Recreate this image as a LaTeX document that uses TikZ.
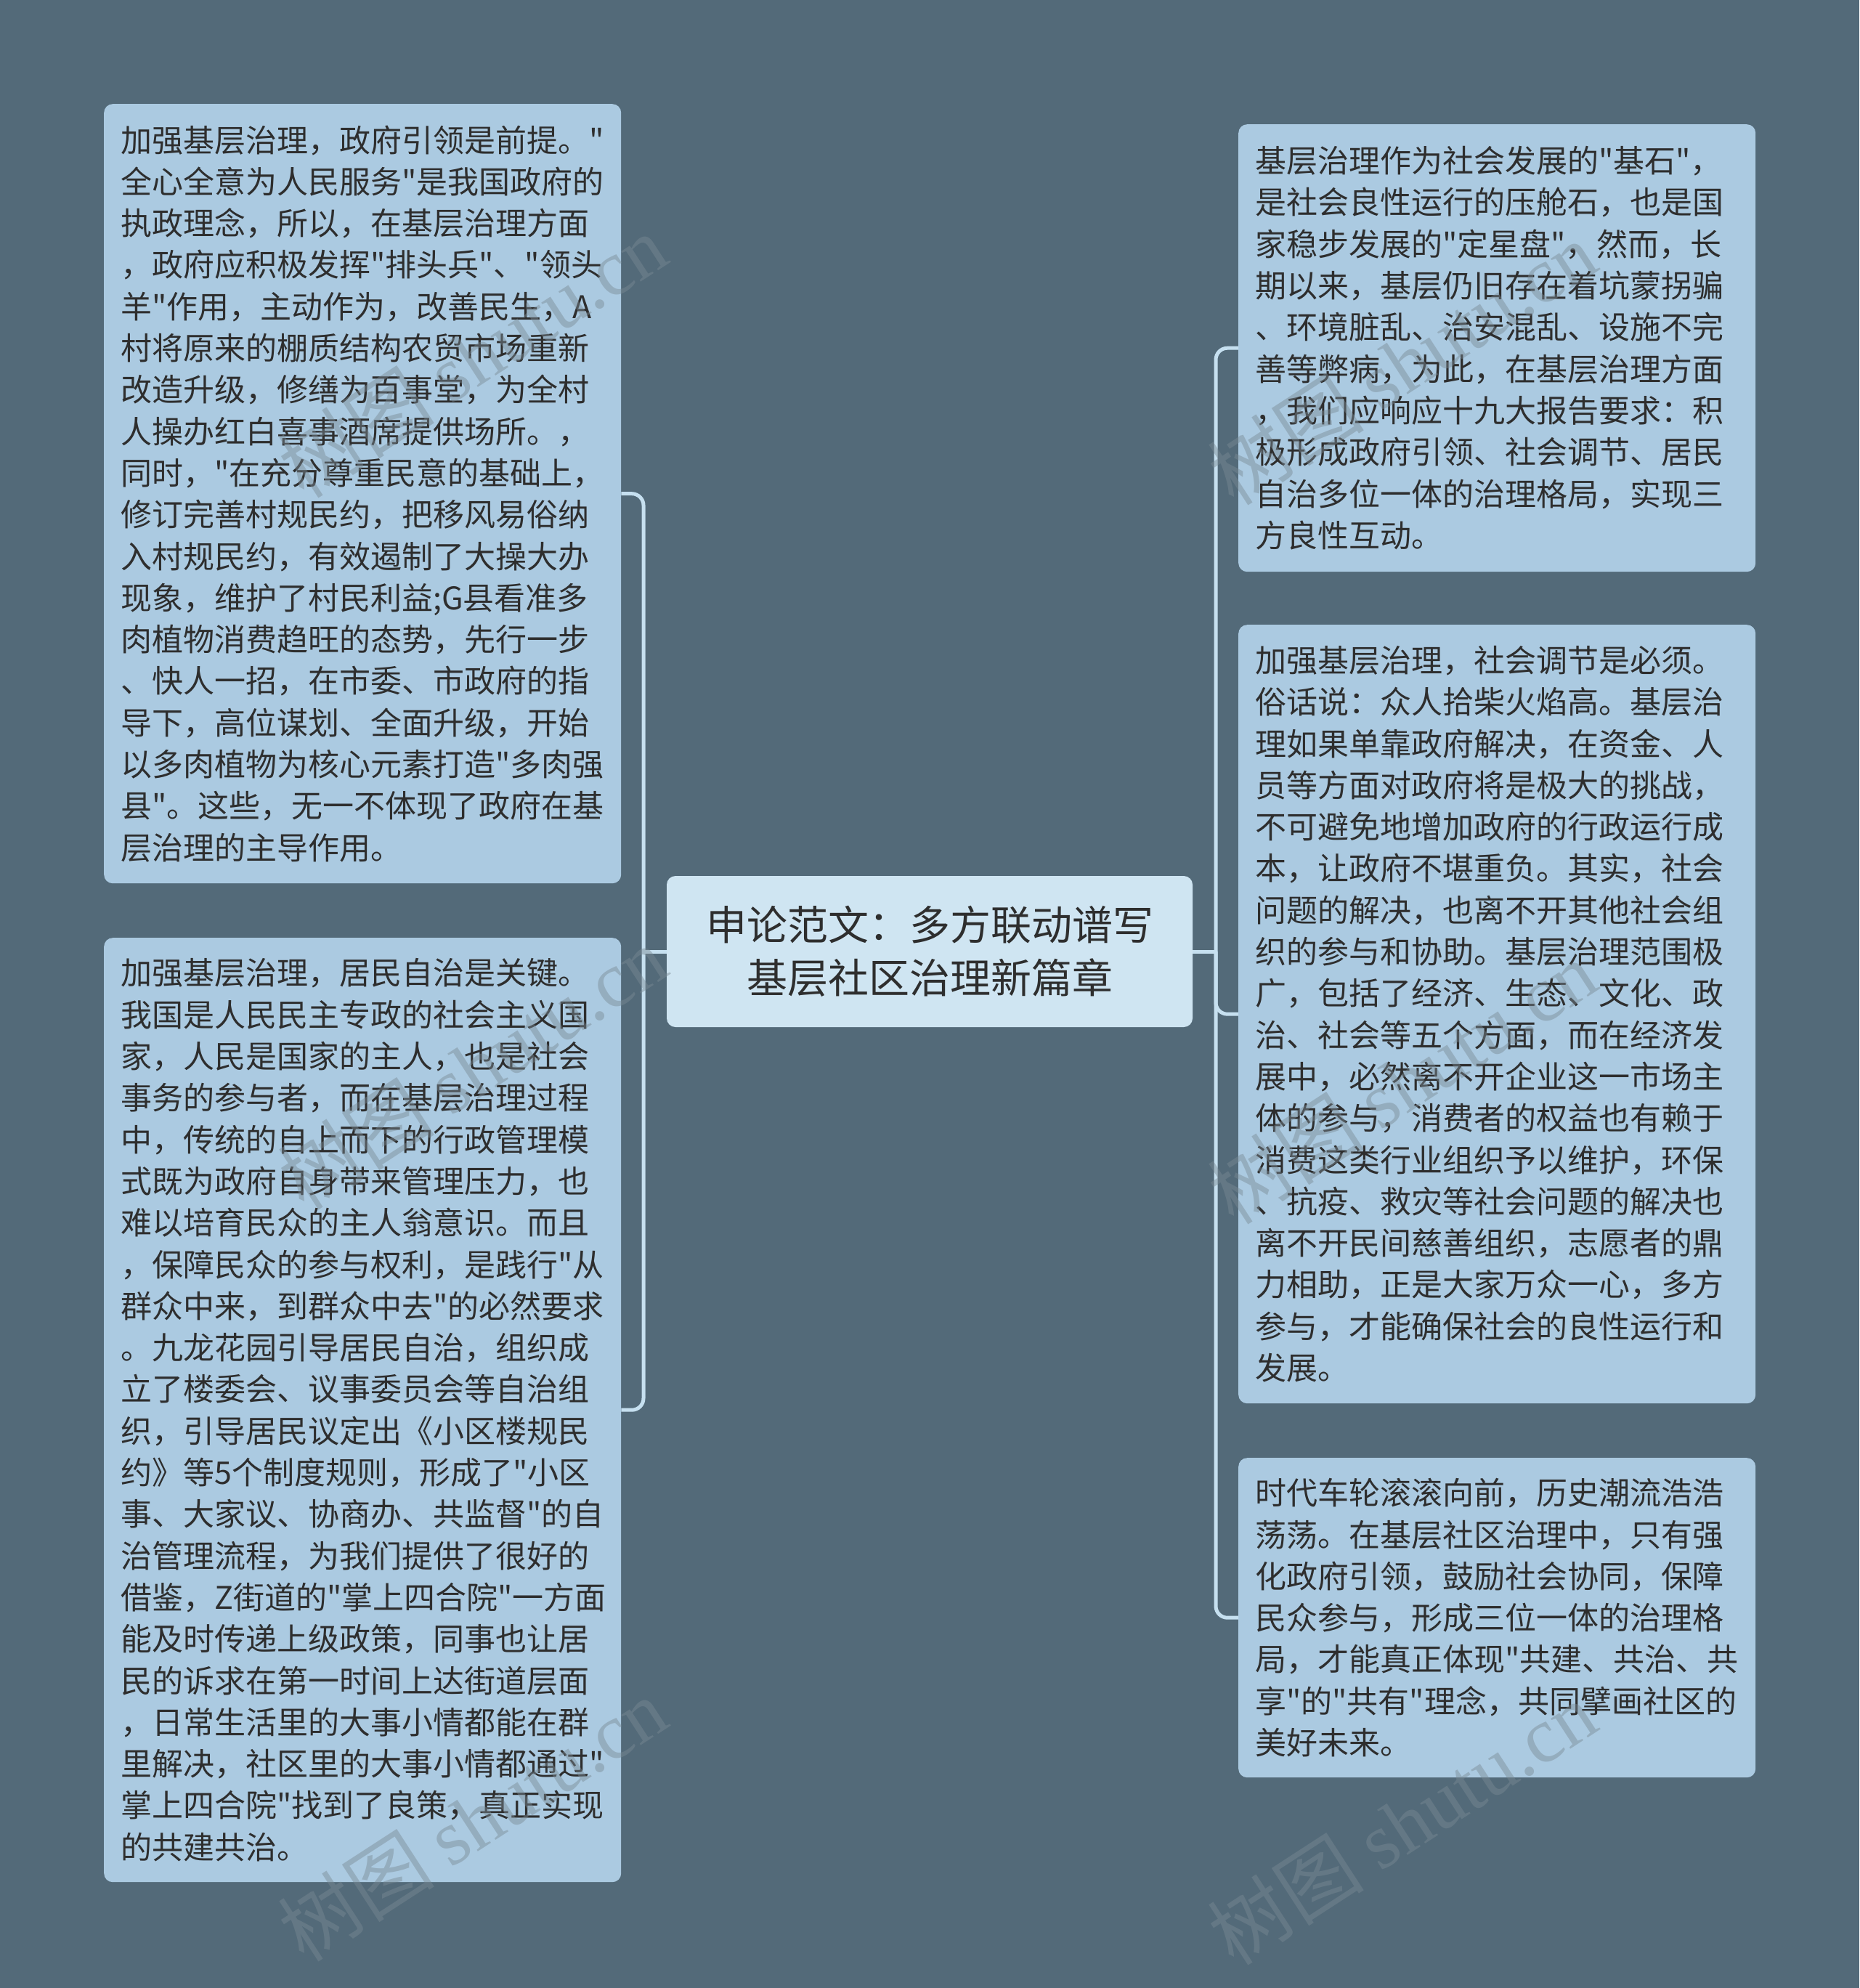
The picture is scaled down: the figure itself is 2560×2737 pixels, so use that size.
\documentclass[tikz,border=0pt]{standalone}
\usepackage{fontspec}
\setmainfont{Noto Sans CJK SC}[Ligatures=TeXOff]
\newfontfamily\wmserif{Liberation Serif}[Ligatures=TeXOff]
\definecolor{bgc}{HTML}{536A79}
\definecolor{leafc}{HTML}{ABCAE1}
\definecolor{rootc}{HTML}{CFE5F2}
\definecolor{linec}{HTML}{C6E0F0}
\definecolor{txt}{HTML}{2E2E2E}
\definecolor{wmc}{HTML}{7A8A94}
\begin{document}
\begin{tikzpicture}[x=1pt,y=-1pt,
  leaf/.style={fill=leafc, rounded corners=12pt, text width=666pt, inner xsep=23pt, inner ysep=0pt,
    align=left, font=\fontsize{43}{57.3}\selectfont, text=txt, anchor=north west},
  root/.style={fill=rootc, rounded corners=12pt, minimum width=724pt, minimum height=208pt,
    align=center, font=\fontsize{56}{73}\selectfont, text=txt, inner sep=0pt},
  conn/.style={draw=linec, line width=5pt, rounded corners=16pt},
  wm/.style={text=wmc, opacity=0.45, font=\fontsize{108}{112}\selectfont, rotate=33, inner sep=0pt}]
\fill[bgc] (0,0) rectangle (2560,2737);
\useasboundingbox (0,0) rectangle (2560,2737);

\node[root] (C) at (1280,1310) {申论范文：多方联动谱写\\基层社区治理新篇章};

\node[leaf, minimum height=1073pt] (L1) at (143,143) {加强基层治理，政府引领是前提。"\\
全心全意为人民服务"是我国政府的\\
执政理念，所以，在基层治理方面\\
，政府应积极发挥"排头兵"、"领头\\
羊"作用，主动作为，改善民生，A\\
村将原来的棚质结构农贸市场重新\\
改造升级，修缮为百事堂，为全村\\
人操办红白喜事酒席提供场所。，\\
同时，"在充分尊重民意的基础上，\\
修订完善村规民约，把移风易俗纳\\
入村规民约，有效遏制了大操大办\\
现象，维护了村民利益;G县看准多\\
肉植物消费趋旺的态势，先行一步\\
、快人一招，在市委、市政府的指\\
导下，高位谋划、全面升级，开始\\
以多肉植物为核心元素打造"多肉强\\
县"。这些，无一不体现了政府在基\\
层治理的主导作用。};

\node[leaf, minimum height=1300pt] (L2) at (143,1291) {加强基层治理，居民自治是关键。\\
我国是人民民主专政的社会主义国\\
家，人民是国家的主人，也是社会\\
事务的参与者，而在基层治理过程\\
中，传统的自上而下的行政管理模\\
式既为政府自身带来管理压力，也\\
难以培育民众的主人翁意识。而且\\
，保障民众的参与权利，是践行"从\\
群众中来，到群众中去"的必然要求\\
。九龙花园引导居民自治，组织成\\
立了楼委会、议事委员会等自治组\\
织，引导居民议定出《小区楼规民\\
约》等5个制度规则，形成了"小区\\
事、大家议、协商办、共监督"的自\\
治管理流程，为我们提供了很好的\\
借鉴，Z街道的"掌上四合院"一方面\\
能及时传递上级政策，同事也让居\\
民的诉求在第一时间上达街道层面\\
，日常生活里的大事小情都能在群\\
里解决，社区里的大事小情都通过"\\
掌上四合院"找到了良策，真正实现\\
的共建共治。};

\node[leaf, minimum height=616pt] (R1) at (1705,171) {基层治理作为社会发展的"基石"，\\
是社会良性运行的压舱石，也是国\\
家稳步发展的"定星盘"，然而，长\\
期以来，基层仍旧存在着坑蒙拐骗\\
、环境脏乱、治安混乱、设施不完\\
善等弊病，为此，在基层治理方面\\
，我们应响应十九大报告要求：积\\
极形成政府引领、社会调节、居民\\
自治多位一体的治理格局，实现三\\
方良性互动。};

\node[leaf, minimum height=1072pt] (R2) at (1705,860) {加强基层治理，社会调节是必须。\\
俗话说：众人拾柴火焰高。基层治\\
理如果单靠政府解决，在资金、人\\
员等方面对政府将是极大的挑战，\\
不可避免地增加政府的行政运行成\\
本，让政府不堪重负。其实，社会\\
问题的解决，也离不开其他社会组\\
织的参与和协助。基层治理范围极\\
广，包括了经济、生态、文化、政\\
治、社会等五个方面，而在经济发\\
展中，必然离不开企业这一市场主\\
体的参与，消费者的权益也有赖于\\
消费这类行业组织予以维护，环保\\
、抗疫、救灾等社会问题的解决也\\
离不开民间慈善组织，志愿者的鼎\\
力相助，正是大家万众一心，多方\\
参与，才能确保社会的良性运行和\\
发展。};

\node[leaf, minimum height=440pt] (R3) at (1705,2007) {时代车轮滚滚向前，历史潮流浩浩\\
荡荡。在基层社区治理中，只有强\\
化政府引领，鼓励社会协同，保障\\
民众参与，形成三位一体的治理格\\
局，才能真正体现"共建、共治、共\\
享"的"共有"理念，共同擘画社区的\\
美好未来。};

\coordinate (lj) at (886,1310);
\coordinate (rj) at (1674,1310);
\draw[conn] (C.west) -- (lj);
\draw[conn] (lj) |- (L1.east);
\draw[conn] (lj) |- (L2.east);
\draw[conn] (C.east) -- (rj);
\draw[conn] (rj) |- (R1.west);
\draw[conn] (rj) |- (R2.west);
\draw[conn] (rj) |- (R3.west);

\node[wm] (w1) at (650,490) {树图 {\wmserif shutu.cn}};
\node[wm] (w2) at (650,1470) {树图 {\wmserif shutu.cn}};
\node[wm] (w3) at (650,2505) {树图 {\wmserif shutu.cn}};
\node[wm] (w4) at (1930,500) {树图 {\wmserif shutu.cn}};
\node[wm] (w5) at (1930,1490) {树图 {\wmserif shutu.cn}};
\node[wm] (w6) at (1930,2510) {树图 {\wmserif shutu.cn}};
\end{tikzpicture}
\end{document}
